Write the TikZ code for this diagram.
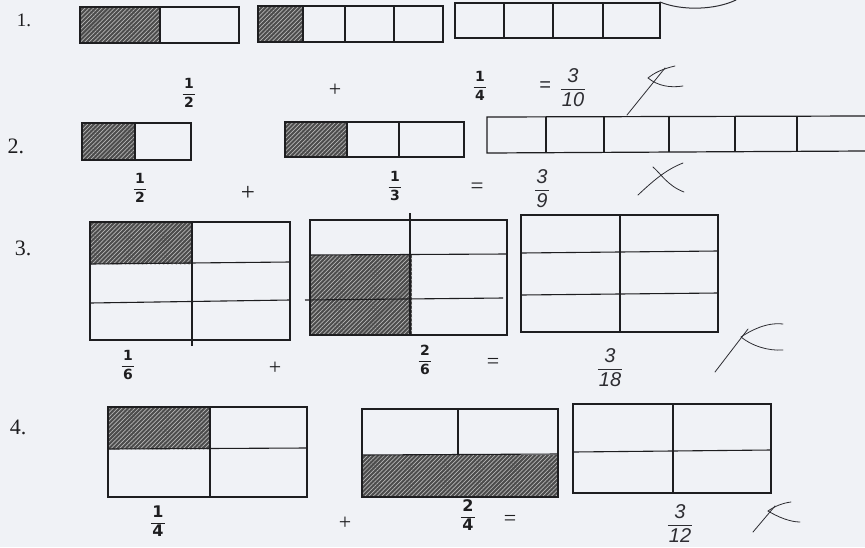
\documentclass[tikz,border=0pt]{standalone}
\usepackage{fontspec}
\setmainfont{Liberation Serif}
\newfontfamily\fracfont{DejaVu Sans}
\newfontfamily\hand{Liberation Sans}
\usetikzlibrary{patterns.meta}
\definecolor{paper}{RGB}{240,242,246}
\definecolor{ink}{RGB}{30,30,32}
\definecolor{pen}{RGB}{45,45,50}
\newcommand{\myfrac}[2]{{\setlength{\arrayrulewidth}{1.3pt}\renewcommand{\arraystretch}{0.8}\begin{tabular}{@{\hspace{1.5pt}}c@{\hspace{1.5pt}}}#1\\[1.5pt]\hline\rule{0pt}{12.5pt}#2\end{tabular}}}
\newcommand{\hfrac}[2]{{\setlength{\arrayrulewidth}{0.7pt}\renewcommand{\arraystretch}{0.85}\begin{tabular}{@{\hspace{1pt}}c@{\hspace{1pt}}}#1\\[1pt]\hline\rule{0pt}{17pt}#2\end{tabular}}}
\tikzset{
  boxline/.style={draw=ink, line width=1.2pt},
  divline/.style={draw=ink, line width=1.1pt},
  shade/.style={fill=black!70, postaction={pattern={Lines[angle=45,distance=3pt,line width=0.7pt]}, pattern color=white!72!black}},
  numlabel/.style={inner sep=0pt, font=\fontsize{22}{22}\selectfont, text=ink},
  fraclabel/.style={inner sep=0pt, font=\fracfont\bfseries\fontsize{14}{15}\selectfont, text=ink},
  oplabel/.style={inner sep=0pt, font=\fontsize{22}{22}\selectfont, text=ink},
  handtext/.style={inner sep=0pt, font=\hand\itshape\fontsize{20}{21}\selectfont, text=pen},
  handstroke/.style={draw=pen, line width=0.8pt, line cap=round},
}
\begin{document}
\begin{tikzpicture}[x=1pt,y=-1pt]
\fill[paper] (0,0) rectangle (865,547);
\useasboundingbox (0,0) rectangle (865,547);

% ---------------- Row 1 ----------------
\node[numlabel, font=\fontsize{19}{19}\selectfont] (n1) at (24,20) {1.};
\fill[shade] (80,7) rectangle (160,43);
\draw[boxline] (80,7) rectangle (239,43);
\draw[divline] (160,7) -- (160,43);
\fill[shade] (258,6) rectangle (303,42);
\draw[boxline] (258,6) rectangle (443,42);
\foreach \x in {303,345,394} \draw[divline] (\x,6) -- (\x,42);
\draw[boxline] (455,3) rectangle (660,38);
\foreach \x in {504,553,603} \draw[divline] (\x,3) -- (\x,38);
\draw[handstroke, line width=1pt] (660,2) .. controls (682,11) and (715,10) .. (736,0);

\node[fraclabel] (f1a) at (189,95) {\myfrac{1}{2}};
\node[oplabel] (p1) at (335,90) {+};
\node[fraclabel] (f1b) at (480,88) {\myfrac{1}{4}};
\node[handtext] (e1) at (545,87) {=};
\node[handtext] (a1) at (573,90) {\hfrac{3}{10}};
\draw[handstroke] (627,115) -- (665,68);
\draw[handstroke] (675,66) .. controls (662,69) and (654,73) .. (648,78) .. controls (658,86) and (670,88) .. (683,86);

% ---------------- Row 2 ----------------
\node[numlabel] (n2) at (16,146) {2.};
\fill[shade] (82,123) rectangle (135,160);
\draw[boxline] (82,123) rectangle (191,160);
\draw[divline] (135,123) -- (135,160);
\fill[shade] (285,122) rectangle (347,157);
\draw[boxline] (285,122) rectangle (464,157);
\foreach \x in {347,399} \draw[divline] (\x,122) -- (\x,157);
\draw[boxline] (866,116) -- (487,117) -- (487,153) -- (866,151);
\foreach \x in {546,604,669,735,797} \draw[divline] (\x,117) -- (\x,152);

\node[fraclabel] (f2a) at (140,190) {\myfrac{1}{2}};
\node[oplabel, font=\fontsize{25}{25}\selectfont] (p2) at (248,193) {+};
\node[fraclabel] (f2b) at (395,188) {\myfrac{1}{3}};
\node[oplabel, font=\fontsize{23}{23}\selectfont] (e2) at (477,188) {=};
\node[handtext] (a2) at (542,191) {\hfrac{3}{9}};
\draw[handstroke] (638,195) .. controls (652,182) and (665,170) .. (683,163);
\draw[handstroke] (653,167) .. controls (661,174) and (668,186) .. (684,192);

% ---------------- Row 3 ----------------
\node[numlabel] (n3) at (23,248) {3.};
\fill[shade] (90,222) rectangle (192,264);
\draw[boxline] (90,222) rectangle (290,340);
\draw[divline] (192,222) -- (192,346);
\draw[divline] (90,264) -- (290,262);
\draw[divline] (90,303) -- (290,300);

\fill[shade] (310,255) rectangle (412,335);
\draw[boxline] (310,220) rectangle (507,335);
\draw[divline] (410,213) -- (410,335);
\draw[divline] (310,255) -- (507,254);
\draw[divline] (305,300) -- (503,298);

\draw[boxline] (521,215) rectangle (718,332);
\draw[divline] (620,215) -- (620,332);
\draw[divline] (521,253) -- (718,251);
\draw[divline] (521,295) -- (718,293);

\node[fraclabel] (f3a) at (128,367) {\myfrac{1}{6}};
\node[oplabel] (p3) at (275,368) {+};
\node[fraclabel] (f3b) at (425,362) {\myfrac{2}{6}};
\node[oplabel] (e3) at (493,363) {=};
\node[handtext] (a3) at (610,370) {\hfrac{3}{18}};
\draw[handstroke] (715,372) -- (748,329);
\draw[handstroke] (783,324) .. controls (766,322) and (750,331) .. (741,337) .. controls (752,346) and (768,351) .. (783,350);

% ---------------- Row 4 ----------------
\node[numlabel] (n4) at (18,427) {4.};
\fill[shade] (108,407) rectangle (210,449);
\draw[boxline] (108,407) rectangle (307,497);
\draw[divline] (210,407) -- (210,497);
\draw[divline] (108,449) -- (307,448);

\fill[shade] (362,455) rectangle (558,497);
\draw[boxline] (362,409) rectangle (558,497);
\draw[divline] (458,409) -- (458,455);
\draw[divline] (362,455) -- (558,454);

\draw[boxline] (573,404) rectangle (771,493);
\draw[divline] (673,404) -- (673,493);
\draw[divline] (573,452) -- (771,450);

\node[fraclabel, font=\fracfont\bfseries\fontsize{16}{17}\selectfont] (f4a) at (158,523) {\myfrac{1}{4}};
\node[oplabel] (p4) at (345,523) {+};
\node[fraclabel, font=\fracfont\bfseries\fontsize{16}{17}\selectfont] (f4b) at (468,517) {\myfrac{2}{4}};
\node[oplabel] (e4) at (510,520) {=};
\node[handtext] (a4) at (680,526) {\hfrac{3}{12}};
\draw[handstroke] (753,532) -- (775,506);
\draw[handstroke] (791,502) .. controls (783,503) and (775,506) .. (768,511) .. controls (778,517) and (790,522) .. (800,522);
\end{tikzpicture}
\end{document}
